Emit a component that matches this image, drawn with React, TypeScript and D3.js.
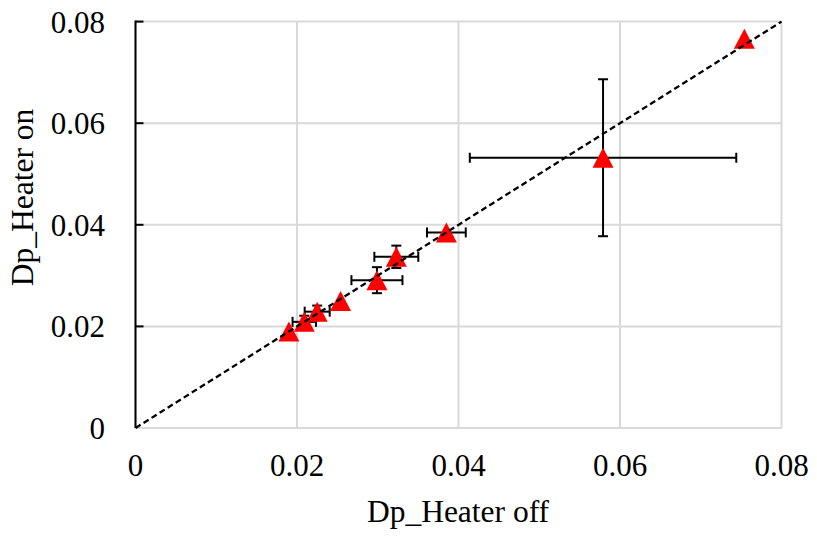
import React from "react";
import * as d3 from "d3";

const xValues = [0.019, 0.0209, 0.0225, 0.0254, 0.0299, 0.0323, 0.0385, 0.0579, 0.0754];
const yValues = [0.019, 0.0209, 0.0229, 0.025, 0.0291, 0.0337, 0.0385, 0.0532, 0.0766];
const xErrors = [0, 0.00145, 0.00155, 0, 0.00316, 0.00272, 0.0024, 0.0165, 0];
const yErrors = [0, 0.0012, 0.0012, 0, 0.00256, 0.0022, 0, 0.01545, 0];
const tickValues = [0, 0.02, 0.04, 0.06, 0.08];
const tickLabels = ["0", "0.02", "0.04", "0.06", "0.08"];
const xTitle = "Dp_Heater off";
const yTitle = "Dp_Heater on";

const W = 817;
const H = 538;

export default function App() {
  const x = d3.scaleLinear().domain([0, 0.08]).range([135.5, 781.5]);
  const y = d3.scaleLinear().domain([0, 0.08]).range([428, 21.6]);
  const font = "'Liberation Serif', 'Times New Roman', serif";
  const grid = "#d9d9d9";
  const cap = 5;
  const data = xValues.map((v, i) => ({ x: v, y: yValues[i], ex: xErrors[i], ey: yErrors[i] }));
  const line = d3.line<number>().x((d) => x(d)).y((d) => y(d));

  return (
    <svg width={W} height={H} style={{ position: "absolute", left: 0, top: 0, background: "#fff" }}>
      <rect x={0} y={0} width={W} height={H} fill="#fff" />
      {tickValues.map((t, i) => (
        <g key={"g" + i}>
          <line x1={x(t)} x2={x(t)} y1={y(0.08)} y2={y(0)} stroke={grid} strokeWidth={2} />
          <line x1={x(0)} x2={x(0.08)} y1={y(t)} y2={y(t)} stroke={grid} strokeWidth={2} />
        </g>
      ))}
      <line x1={x(0)} x2={x(0)} y1={y(0.08) - 1} y2={y(0)} stroke="#000" strokeWidth={2} />
      {tickValues.slice(1).map((t, i) => (
        <line key={"yt" + i} x1={x(0)} x2={x(0) + 8} y1={y(t)} y2={y(t)} stroke="#000" strokeWidth={2} />
      ))}
      {tickValues.map((t, i) => (
        <text key={"yl" + i} x={105} y={y(t) + 11} textAnchor="end" fontFamily={font} fontSize={31} fill="#000">
          {tickLabels[i]}
        </text>
      ))}
      {tickValues.map((t, i) => (
        <text key={"xl" + i} x={x(t)} y={476} textAnchor="middle" fontFamily={font} fontSize={31} fill="#000">
          {tickLabels[i]}
        </text>
      ))}
      <text x={458} y={522} textAnchor="middle" fontFamily={font} fontSize={31.5} fill="#000">
        {xTitle}
      </text>
      <text
        transform={`translate(33,${197.5}) rotate(-90)`}
        textAnchor="middle"
        fontFamily={font}
        fontSize={31.5}
        fill="#000"
      >
        {yTitle}
      </text>
      {data.map((d, i) => (
        <g key={"e" + i} stroke="#000" strokeWidth={2}>
          {d.ex > 0 && (
            <>
              <line x1={x(d.x - d.ex)} x2={x(d.x + d.ex)} y1={y(d.y)} y2={y(d.y)} />
              <line x1={x(d.x - d.ex)} x2={x(d.x - d.ex)} y1={y(d.y) - cap} y2={y(d.y) + cap} />
              <line x1={x(d.x + d.ex)} x2={x(d.x + d.ex)} y1={y(d.y) - cap} y2={y(d.y) + cap} />
            </>
          )}
          {d.ey > 0 && (
            <>
              <line x1={x(d.x)} x2={x(d.x)} y1={y(d.y - d.ey)} y2={y(d.y + d.ey)} />
              <line x1={x(d.x) - cap} x2={x(d.x) + cap} y1={y(d.y - d.ey)} y2={y(d.y - d.ey)} />
              <line x1={x(d.x) - cap} x2={x(d.x) + cap} y1={y(d.y + d.ey)} y2={y(d.y + d.ey)} />
            </>
          )}
        </g>
      ))}
      {data.map((d, i) => (
        <path
          key={"m" + i}
          d={`M0,-10L10.5,10L-10.5,10Z`}
          transform={`translate(${x(d.x)},${y(d.y)})`}
          fill="#ff0000"
        />
      ))}
      <path d={line([0, 0.08]) || ""} stroke="#000" strokeWidth={2.3} strokeDasharray="6,3.5" fill="none" />
    </svg>
  );
}
